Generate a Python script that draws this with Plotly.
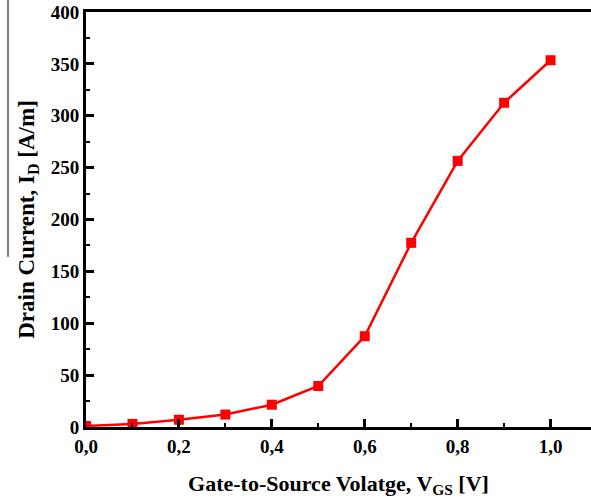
import plotly.graph_objects as go

vgs = [0.0, 0.1, 0.2, 0.3, 0.4, 0.5, 0.6, 0.7, 0.8, 0.9, 1.0]
id_current = [1, 3, 7, 12, 21.5, 39.5, 87.5, 177.5, 256.5, 312.5, 353.5]

x_ticks = [0.0, 0.2, 0.4, 0.6, 0.8, 1.0]
y_ticks = [0, 50, 100, 150, 200, 250, 300, 350, 400]

font_family = "Liberation Serif, Times New Roman, serif"

fig = go.Figure()
fig.add_trace(go.Scatter(
    x=vgs, y=id_current, mode="lines+markers",
    line=dict(color="#ff0000", width=2.5),
    marker=dict(symbol="square", size=10, color="#ff0000"),
    showlegend=False,
))

fig.update_layout(
    width=591, height=500,
    margin=dict(l=86, r=0, t=12, b=73),
    paper_bgcolor="white", plot_bgcolor="white",
    separators=", ",
    font=dict(family=font_family, color="black"),
    xaxis=dict(
        range=[0, 1.087], tickvals=x_ticks, tickformat=".1f",
        showgrid=False, zeroline=False,
        showline=True, linecolor="black", linewidth=3, mirror=True,
        ticks="inside", ticklen=8, tickwidth=2.5, tickcolor="black",
        minor=dict(ticks="inside", ticklen=4, tickwidth=2, tickcolor="black", dtick=0.1, showgrid=False),
        tickfont=dict(size=19, family=font_family, weight="bold"),
        title=dict(text="<b>Gate-to-Source Volatge, V<sub>GS</sub> [V]</b>",
                   font=dict(size=22, family=font_family), standoff=20),
    ),
    yaxis=dict(
        range=[0, 400], tickvals=y_ticks,
        showgrid=False, zeroline=False,
        showline=True, linecolor="black", linewidth=3,
        ticks="inside", ticklen=8, tickwidth=2.5, tickcolor="black",
        minor=dict(ticks="inside", ticklen=4, tickwidth=2, tickcolor="black", dtick=25, showgrid=False),
        tickfont=dict(size=19, family=font_family, weight="bold"),
        title=dict(text="<b>Drain Current, I<sub>D</sub> [A/m]</b>",
                   font=dict(size=23, family=font_family), standoff=10),
    ),
    shapes=[dict(type="line", xref="paper", yref="paper",
                 x0=-78 / 505, x1=-78 / 505, y0=1.03, y1=0.41,
                 line=dict(color="black", width=1))],
)

fig.write_html("out.html")
